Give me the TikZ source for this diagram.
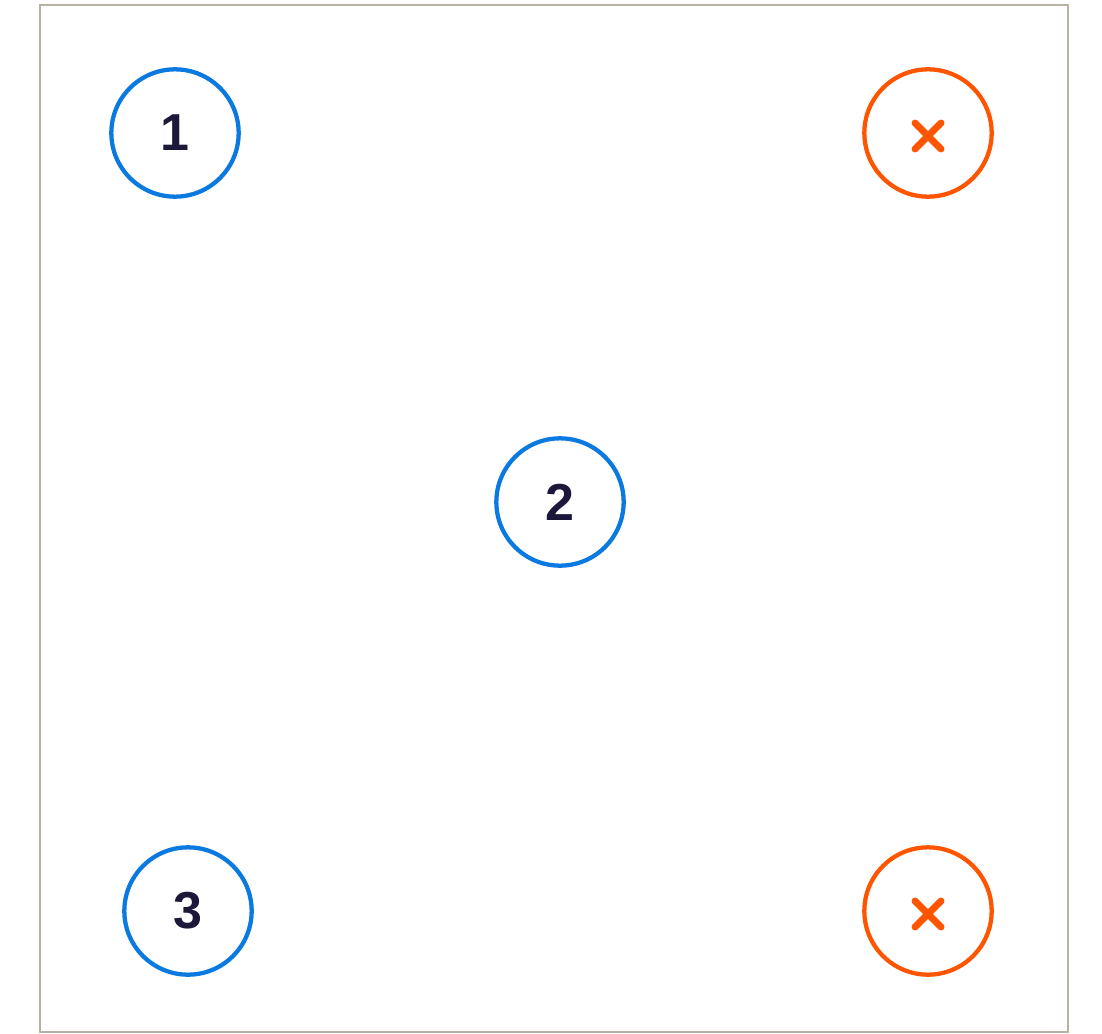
\documentclass[tikz,border=0pt]{standalone}
\usepackage{fontspec}
\setmainfont{Liberation Sans}
\usepackage{tikz}
\usetikzlibrary{calc}
\definecolor{ringblue}{RGB}{10,122,224}
\definecolor{ringred}{RGB}{255,85,0}
\definecolor{numink}{RGB}{27,24,58}
\definecolor{frame}{RGB}{184,178,164}
\tikzset{
  spot/.style={draw=ringblue,circle,line width=3.2pt,minimum size=95.5pt,inner sep=0pt,
    font=\fontsize{39}{39}\selectfont\bfseries,text=numink},
  miss/.style={spot,draw=ringred},
  cross/.style={draw=ringred,line width=5.2pt,line cap=round}
}
\begin{document}
\begin{tikzpicture}[x=0.75pt,y=-0.75pt]
\useasboundingbox (0,0) rectangle (1102,1034);
\draw[frame,line width=1.6pt] (40,5) rectangle (1068,1032);
% numbered spots
\foreach \n/\x/\y in {1/175/133,2/560/502,3/188/911}
  \node[spot] (s\n) at (\x,\y) {\n};
% crossed spots
\foreach \n/\y in {a/133,b/911}{
  \node[miss] (m\n) at (928,\y) {};
  \draw[cross] ($(m\n)+(-13,-10)$) -- ($(m\n)+(13,16)$)
               ($(m\n)+(-13,16)$) -- ($(m\n)+(13,-10)$);
}
\end{tikzpicture}
\end{document}
